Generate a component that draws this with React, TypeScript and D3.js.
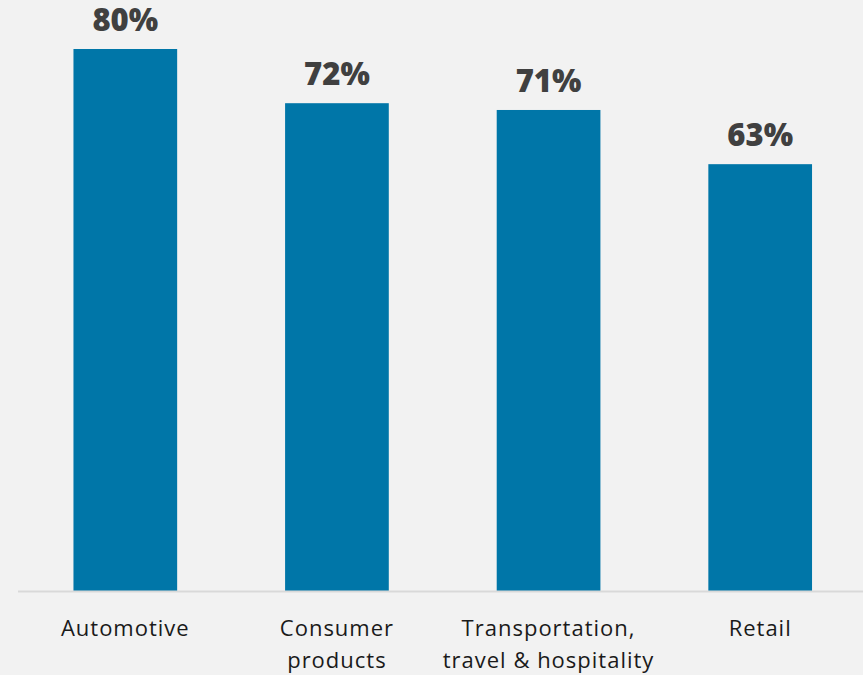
import * as d3 from 'd3';
import React from 'react';

const categories = ['Automotive', 'Consumer products', 'Transportation, travel & hospitality', 'Retail'];
const values = [80, 72, 71, 63];
const labelLines = [['Automotive'], ['Consumer', 'products'], ['Transportation,', 'travel & hospitality'], ['Retail']];

const width = 863;
const height = 675;
const baseY = 591;

const App = () => {
  const x = d3.scaleBand<string>().domain(categories).range([19.5, 866]).paddingInner(0.51).paddingOuter(0.255);
  const y = d3.scaleLinear().domain([0, 80]).range([baseY, 49]);

  return (
    <svg
      width={width}
      height={height}
      style={{ position: 'absolute', left: 0, top: 0, background: '#f2f2f2' }}
    >
      <rect x={0} y={0} width={width} height={height} fill="#f2f2f2" />
      {categories.map((c, i) => (
        <g key={c}>
          <rect x={x(c)} y={y(values[i])} width={x.bandwidth()} height={baseY - y(values[i])} fill="#0076A8" />
          <text
            x={(x(c) as number) + x.bandwidth() / 2}
            y={y(values[i]) - 18}
            textAnchor="middle"
            fontFamily="'Open Sans', sans-serif"
            fontWeight={800}
            fontSize={31}
            fill="#404040"
          >
            {values[i]}%
          </text>
          {labelLines[i].map((line, j) => (
            <text
              key={j}
              x={(x(c) as number) + x.bandwidth() / 2}
              y={636 + j * 32}
              textAnchor="middle"
              fontFamily="'Open Sans', sans-serif"
              fontSize={22}
              letterSpacing={1}
              fill="#1a1a1a"
            >
              {line}
            </text>
          ))}
        </g>
      ))}
      <line x1={18} x2={width} y1={baseY + 0.5} y2={baseY + 0.5} stroke="#d9d9d9" strokeWidth={2} />
    </svg>
  );
};

export default App;
